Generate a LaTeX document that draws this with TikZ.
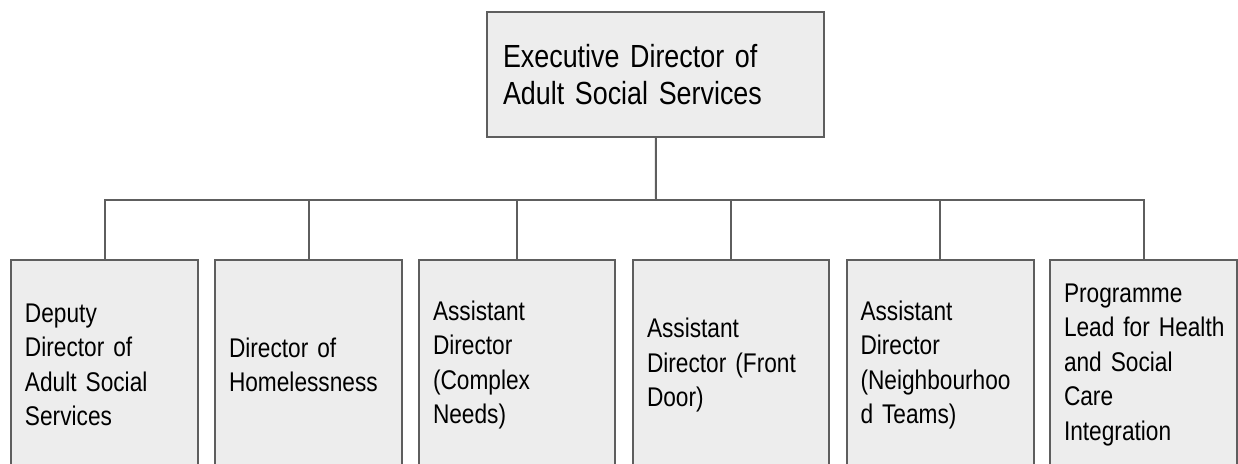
\documentclass[tikz,border=0pt]{standalone}
\usepackage{fontspec}
\setmainfont{Liberation Sans}[FakeStretch=0.84]
\definecolor{boxfill}{HTML}{EDEDED}
\definecolor{boxline}{HTML}{5E5E5E}
\newcommand\boxfont{\fontsize{13.5pt}{17.25pt}\selectfont}
\newcommand\headfont{\fontsize{16pt}{18.5pt}\selectfont}
\begin{document}
\begin{tikzpicture}[x=.5pt,y=-.5pt,
    box/.style={rectangle,draw=boxline,line width=1pt,fill=boxfill,
        inner xsep=7pt,inner ysep=0pt,align=left,text width=79.5pt,
        minimum height=105pt,font=\boxfont},
    wide/.style={box,text width=84pt},
    head/.style={box,text width=152.5pt,inner xsep=8pt,minimum height=62.5pt,
        font=\headfont}]
\useasboundingbox (0,0) rectangle (1238,463);
\clip (0,0) rectangle (1238,463);
    \node[head](A) at (655.5,74.5){Executive Director of\\Adult Social Services};
    \node[box](B1) at (104.5,365){Deputy\\Director of\\Adult Social\\Services};
    \node[box](B2) at (308.5,365){Director of\\Homelessness};
    \node[wide](B3) at (517,365){Assistant\\Director\\(Complex\\Needs)};
    \node[wide](B4) at (731,365){Assistant\\Director (Front\\Door)};
    \node[box](B5) at (940,365){Assistant\\Director\\(Neighbourhoo\\d Teams)};
    \node[box](B6) at (1143.5,365){Programme\\\mbox{Lead for Health}\\and Social\\Care\\Integration};
    \coordinate(J) at (656,200);
    \draw[boxline,line width=1pt](A)--(J);
    \draw[boxline,line width=1pt](B1)--(B1|-J)--(B6|-J)--(B6);
    \draw[boxline,line width=1pt](B2)--(B2|-J) (B3)--(B3|-J) (B4)--(B4|-J) (B5)--(B5|-J);
\end{tikzpicture}
\end{document}
